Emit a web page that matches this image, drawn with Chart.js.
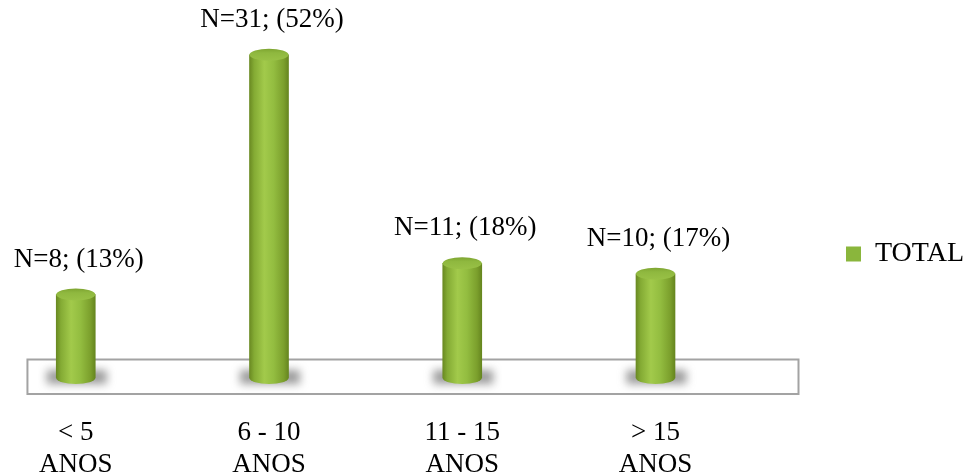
<!DOCTYPE html>
<html>
<head>
<meta charset="utf-8">
<script src="https://cdn.jsdelivr.net/npm/chart.js@4.4.1/dist/chart.umd.min.js"></script>
<style>
  html, body { margin: 0; padding: 0; background: #ffffff; }
  #wrap { width: 966px; height: 473px; position: relative; }
</style>
</head>
<body>
<div id="wrap"><canvas id="chart" width="966" height="473"></canvas></div>
<script>
// Tempo de atuação, agrupado em faixas de anos
const categories = [['< 5', 'ANOS'], ['6 - 10', 'ANOS'], ['11 - 15', 'ANOS'], ['> 15', 'ANOS']];
const seriesName = 'TOTAL';
const counts = [8, 31, 11, 10];

const total = counts.reduce((a, b) => a + b, 0);
const SERIF = '"Liberation Serif", "Times New Roman", serif';

// Horizontal shading of a cylinder body between x0 and x1
function cylinderGradient(ctx, x0, x1) {
  const g = ctx.createLinearGradient(x0, 0, x1, 0);
  g.addColorStop(0.00, '#6a8a22');
  g.addColorStop(0.12, '#84ab34');
  g.addColorStop(0.38, '#a2ca4b');
  g.addColorStop(0.62, '#93bd40');
  g.addColorStop(0.88, '#7b9f2c');
  g.addColorStop(1.00, '#66861f');
  return g;
}

const BAR_W = 39;
const CAP_RY = 6;

function bodyColor(context) {
  const chart = context.chart;
  if (!chart.chartArea || context.dataIndex === undefined) return '#8db53d';
  const cx = chart.scales.x.getPixelForValue(context.dataIndex);
  return cylinderGradient(chart.ctx, cx - BAR_W / 2, cx + BAR_W / 2);
}

// Floor box and soft shadows, drawn under the bars
const floorPlugin = {
  id: 'floor',
  beforeDatasetsDraw(chart) {
    const { ctx, scales: { x, y } } = chart;
    const step = x.getPixelForValue(1) - x.getPixelForValue(0);
    const base = y.getPixelForValue(0);
    const left = x.getPixelForValue(0) - 0.25 * step;
    const right = x.getPixelForValue(categories.length - 1) + 0.74 * step;
    ctx.save();
    ctx.strokeStyle = '#a3a3a3';
    ctx.lineWidth = 2;
    ctx.strokeRect(left, base - 18.5, right - left, 34.5);

    chart.getDatasetMeta(0).data.forEach((bar) => {
      ctx.save();
      ctx.filter = 'blur(4px)';
      ctx.fillStyle = 'rgba(90,90,90,0.6)';
      ctx.fillRect(bar.x - 29, base - 8, 60, 14);
      ctx.restore();
    });
    ctx.restore();
  }
};

// Elliptic caps, rounded foot and value labels on top of each bar
const cylinderPlugin = {
  id: 'cylinder',
  afterDatasetsDraw(chart) {
    const { ctx } = chart;
    const meta = chart.getDatasetMeta(0);
    ctx.save();
    meta.data.forEach((bar, i) => {
      const rx = bar.width / 2;
      const x0 = bar.x - rx, x1 = bar.x + rx;

      // rounded foot
      ctx.beginPath();
      ctx.ellipse(bar.x, bar.base, rx, CAP_RY, 0, 0, Math.PI);
      ctx.closePath();
      ctx.fillStyle = cylinderGradient(ctx, x0, x1);
      ctx.fill();

      // top cap
      const cap = ctx.createLinearGradient(0, bar.y - CAP_RY, 0, bar.y + CAP_RY);
      cap.addColorStop(0, '#7ea531');
      cap.addColorStop(0.35, '#8fb83f');
      cap.addColorStop(1, '#99c146');
      ctx.beginPath();
      ctx.ellipse(bar.x, bar.y, rx, CAP_RY, 0, 0, Math.PI * 2);
      ctx.fillStyle = cap;
      ctx.fill();

      // value label
      const pct = Math.round(counts[i] / total * 100);
      ctx.fillStyle = '#000000';
      ctx.font = '27px ' + SERIF;
      ctx.textAlign = 'center';
      ctx.textBaseline = 'alphabetic';
      ctx.fillText('N=' + counts[i] + '; (' + pct + '%)', bar.x + 3, bar.y - 28);
    });
    ctx.restore();
  }
};

new Chart(document.getElementById('chart'), {
  type: 'bar',
  data: {
    labels: categories,
    datasets: [{
      label: seriesName,
      data: counts,
      backgroundColor: bodyColor,
      borderWidth: 0,
      barThickness: BAR_W,
      clip: false
    }]
  },
  options: {
    responsive: false,
    animation: false,
    layout: { padding: { left: 71.5, right: -8, top: -12, bottom: -47 } },
    scales: {
      x: {
        type: 'category',
        offset: false,
        grid: { display: false, drawTicks: false, tickLength: 0 },
        border: { display: false },
        ticks: {
          color: '#000000',
          padding: 39,
          maxRotation: 0,
          autoSkip: false,
          font: { family: SERIF, size: 27, lineHeight: 1.185 }
        }
      },
      y: {
        display: false,
        min: 0,
        max: 36.25
      }
    },
    plugins: {
      tooltip: { enabled: false },
      legend: {
        position: 'right',
        labels: {
          color: '#000000',
          boxWidth: 15,
          boxHeight: 15,
          padding: 190.5,
          font: { family: SERIF, size: 28 },
          generateLabels(chart) {
            const items = Chart.defaults.plugins.legend.labels.generateLabels(chart);
            items.forEach((it) => {
              it.fillStyle = '#8ab63c';
              it.strokeStyle = '#8ab63c';
              it.lineWidth = 0;
            });
            return items;
          }
        }
      }
    }
  },
  plugins: [floorPlugin, cylinderPlugin]
});
</script>
</body>
</html>
